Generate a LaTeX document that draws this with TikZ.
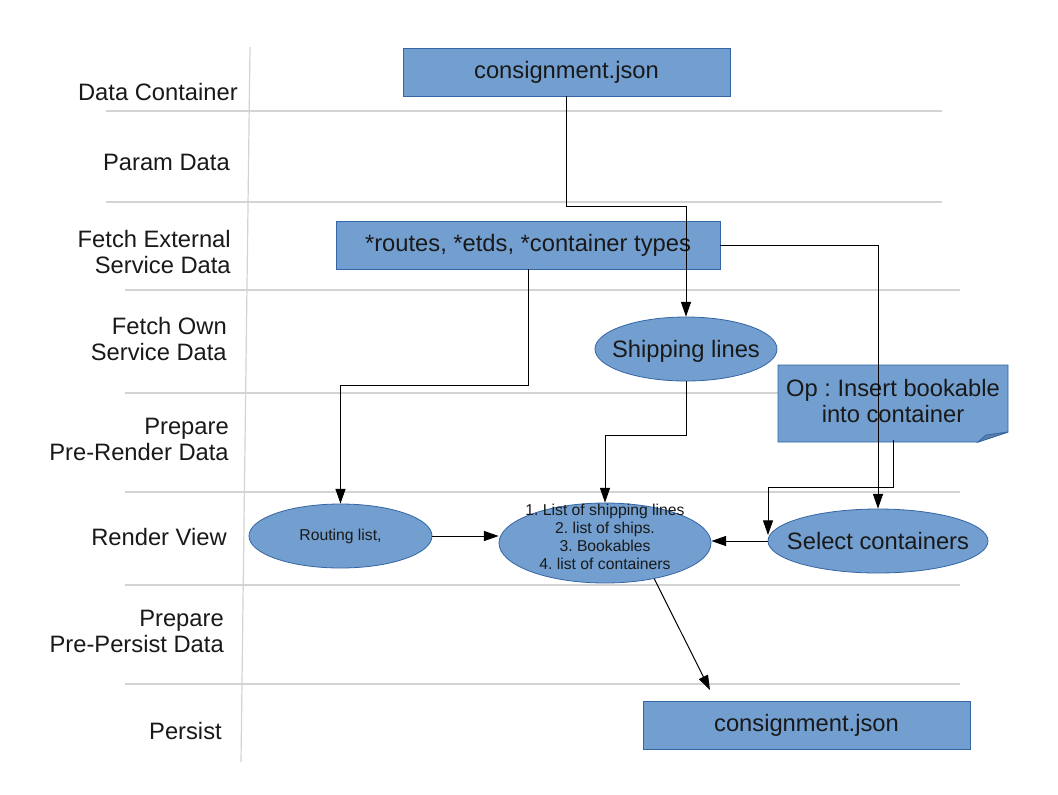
\documentclass[tikz,border=0pt]{standalone}
\usepackage{fontspec}
\setmainfont{Liberation Sans}
\usetikzlibrary{shapes.geometric,arrows.meta}
\definecolor{boxfill}{HTML}{729FCF}
\definecolor{boxline}{HTML}{3465A4}
\definecolor{gridline}{HTML}{D3D3D3}
\frenchspacing
\begin{document}
\begin{tikzpicture}[x=0.75pt,y=-0.75pt,
  lane/.style={draw=gridline, line width=0.9pt},
  bigfont/.style={font=\fontsize{17.8}{19.5}\selectfont},
  smallfont/.style={font=\fontsize{11.8}{13.5}\selectfont},
  lanelabel/.style={bigfont, anchor=east, align=right, inner sep=0pt, text=black!90},
  databox/.style={rectangle, draw=boxline, fill=boxfill, line width=0.6pt, inner sep=0pt, bigfont, text=black!90},
  oval/.style={ellipse, draw=boxline, fill=boxfill, line width=0.6pt, inner sep=0pt},
  ovaltext/.style={align=center, text=black!90},
  flow/.style={draw=black, line width=0.75pt, -{Triangle[length=11pt,width=7.5pt]}}
]
\fill[white] (0,0) rectangle (1058,794);
\useasboundingbox (0,0) rectangle (1058,794);

% lanes
\draw[lane] (250,47) -- (241,762);
\draw[lane] (106,111) -- (942,111);
\draw[lane] (106,202) -- (942,202);
\draw[lane] (125,290) -- (960,290);
\draw[lane] (125,393) -- (960,393);
\draw[lane] (125,492) -- (960,492);
\draw[lane] (125,585) -- (960,585);
\draw[lane] (125,684) -- (960,684);

% lane labels
\node[lanelabel] (l1) at (238,92) {Data Container};
\node[lanelabel] (l2) at (230,162) {Param Data};
\node[lanelabel] (l3) at (231,252) {Fetch External\\Service Data};
\node[lanelabel] (l4) at (227,339) {Fetch Own\\Service Data};
\node[lanelabel] (l5) at (229,439) {Prepare\\Pre-Render Data};
\node[lanelabel] (l6) at (227,537) {Render View};
\node[lanelabel] (l7) at (224,631) {Prepare\\Pre-Persist Data};
\node[lanelabel] (l8) at (222,731) {Persist};

% boxes
\node[databox, minimum width=245.25pt, minimum height=36pt] (src) at (566.5,72) {consignment.json};
\node[databox, minimum width=288pt, minimum height=36pt] (ext) at (528,245) {*routes, *etds, *container types};
\node[oval, minimum width=136.5pt, minimum height=48pt,
      label={[ovaltext,bigfont,yshift=-1.5pt]center:Shipping lines}] (ship) at (686,349) {};

% note
\path[fill=boxfill, draw=boxline, line width=0.6pt]
  (778,365) -- (1008,365) -- (1008,432) -- (978,442) -- (778,442) -- cycle;
\path[fill=boxfill!80!black, draw=boxline, line width=0.6pt]
  (978,442) -- (986,435) -- (1008,432) -- cycle;
\node[bigfont, align=center, inner sep=0pt, minimum width=172.5pt, minimum height=57.75pt, text=black!90] (op) at (893,401) {Op : Insert bookable\\into container};

\node[oval, minimum width=137.25pt, minimum height=48pt,
      label={[ovaltext,smallfont]center:Routing list,}] (route) at (340.5,536) {};
\node[oval, minimum width=159pt, minimum height=60pt,
      label={[ovaltext,smallfont,yshift=4.5pt]center:1. List of shipping lines\\2. list of ships.\\3. Bookables\\4. list of containers}] (mid) at (605,543) {};
\node[oval, minimum width=165pt, minimum height=48pt,
      label={[ovaltext,bigfont]center:Select containers}] (sel) at (878,541) {};
\node[databox, minimum width=245.25pt, minimum height=36pt] (dst) at (806.5,725) {consignment.json};

% connectors
\coordinate (opin) at (768,535);
\coordinate (persistin) at (710,690);
\draw[flow] (src.south) -- ++(0,110) -| (ship.north);
\draw[flow] (ext.east) -| (sel.north);
\draw[flow] (ext.south) -- ++(0,116) -| (route.north);
\draw[flow] (ship.south) -- ++(0,54) -| (mid.north);
\draw[flow] (op.south) -- ++(0,48) -| (opin);
\draw[flow] (route.east) -- (route.east -| mid.west);
\draw[flow] (sel.west) -- (sel.west -| mid.east);
\draw[flow] (mid.-36) -- (persistin);
\end{tikzpicture}
\end{document}
